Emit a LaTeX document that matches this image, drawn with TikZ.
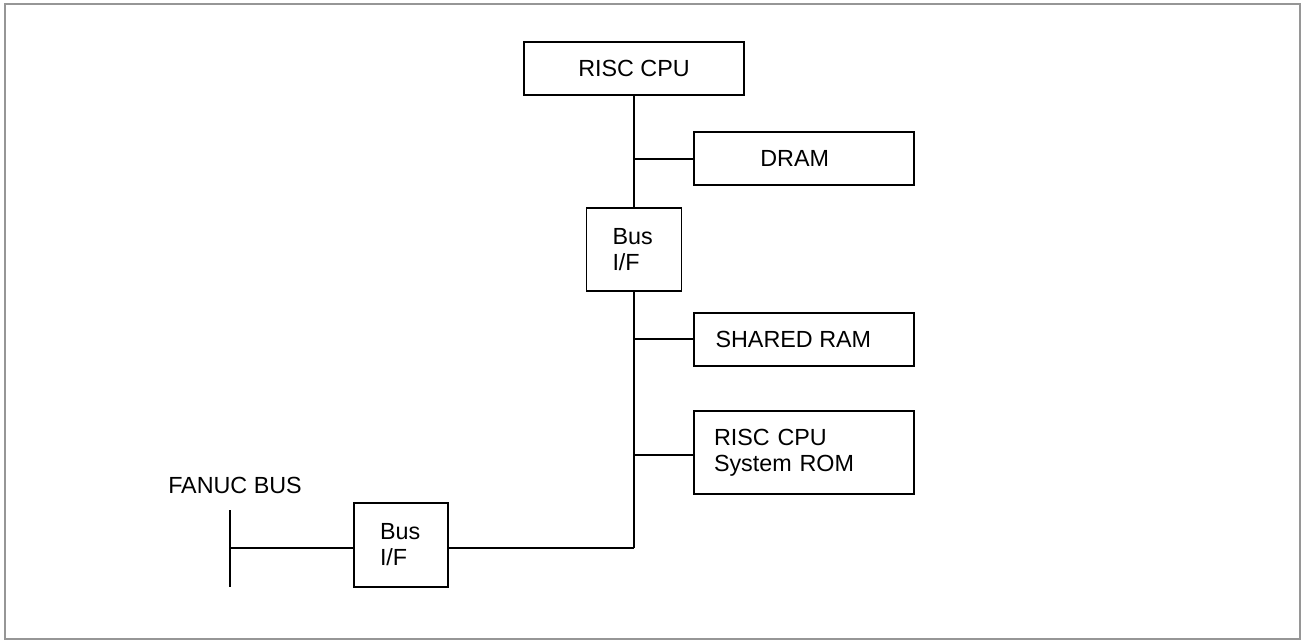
\documentclass[tikz,border=0pt]{standalone}
\usepackage{fontspec}
\setmainfont{Liberation Sans}
\definecolor{framegray}{RGB}{150,150,150}
\begin{document}
\begin{tikzpicture}[x=0.75pt,y=-0.75pt,
  box/.style={draw, line width=0.95pt, inner sep=0pt, font=\fontsize{17.5}{19.5}\selectfont},
  thin/.style={line width=0.95pt},
  bus/.style={line width=2.1pt},
  lbl/.style={inner sep=0pt, font=\fontsize{17.5}{19.5}\selectfont}]
\useasboundingbox (0,0) rectangle (1302,641);
\draw[framegray, line width=1.6pt] (5,4) rectangle (1300,639);
% nodes
\node[box, minimum width=220*0.75pt, minimum height=53*0.75pt] (cpu) at (634,68.5) {RISC CPU};
\node[box, minimum width=220*0.75pt, minimum height=53*0.75pt] (dram) at (804,158.5) {\hspace*{-14pt}DRAM};
\node[box, minimum width=95*0.75pt, minimum height=83*0.75pt, text width=43*0.75pt, align=left] (bif1) at (634,249.5) {Bus\\I/F};
\node[box, minimum width=220*0.75pt, minimum height=53*0.75pt] (sram) at (804,339.5) {\hspace*{-16pt}SHARED RAM};
\node[box, minimum width=220*0.75pt, minimum height=83*0.75pt, text width=180*0.75pt, align=left] (rom) at (804,452.5) {RISC CPU\\System ROM};
\node[box, minimum width=94*0.75pt, minimum height=84*0.75pt, text width=42*0.75pt, align=left] (bif2) at (401,545) {Bus\\I/F};
\node[lbl, anchor=base west] (fanuc) at (168,493) {FANUC BUS};
% bus coordinates
\coordinate (j1) at (634,159);
\coordinate (j2) at (634,339);
\coordinate (j3) at (634,455);
\coordinate (j4) at (634,548);
\coordinate (f1) at (230,510);
\coordinate (f2) at (230,587);
\coordinate (f3) at (230,548);
% connectors
\draw[bus] (cpu.south) -- (bif1.north);
\draw[bus] (bif1.south) -- (j4);
\draw[thin] (j1) -- (j1 -| dram.west);
\draw[thin] (j2) -- (j2 -| sram.west);
\draw[thin] (j3) -- (j3 -| rom.west);
\draw[thin] (j4) -- (j4 -| bif2.east);
\draw[bus] (f1) -- (f2);
\draw[thin] (f3) -- (f3 -| bif2.west);
\end{tikzpicture}
\end{document}
